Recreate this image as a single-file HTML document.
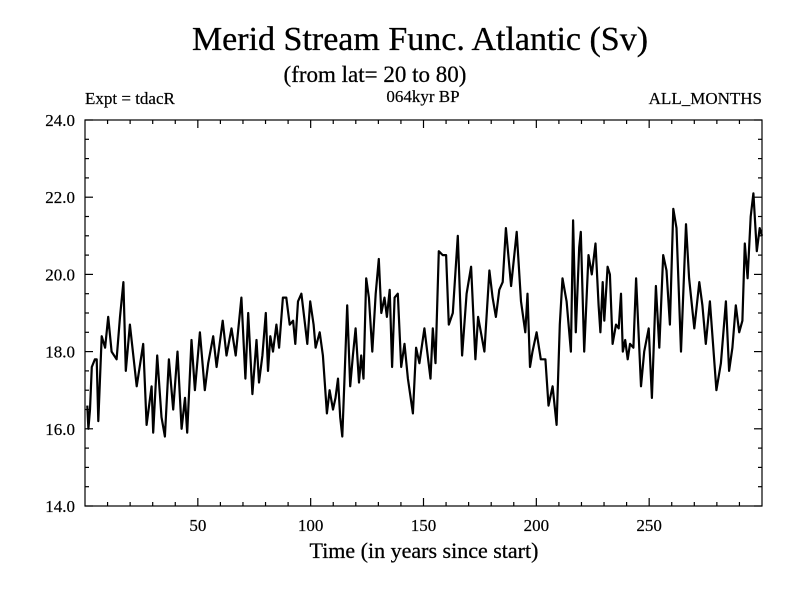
<!DOCTYPE html>
<html><head><meta charset="utf-8"><style>
body{margin:0;background:#fff}
svg text{font-family:"Liberation Serif",serif;fill:#000}
</style></head><body>
<svg id="chart" width="800" height="600" viewBox="0 0 800 600" xmlns="http://www.w3.org/2000/svg">
<rect width="800" height="600" fill="#fff"/>
<text x="420" y="50" font-size="34" text-anchor="middle" stroke="#000" stroke-width="0.3">Merid Stream Func. Atlantic (Sv)</text>
<text x="375" y="82" font-size="23" text-anchor="middle" stroke="#000" stroke-width="0.25">(from lat= 20 to 80)</text>
<text x="85" y="104" font-size="17" stroke="#000" stroke-width="0.2">Expt = tdacR</text>
<text x="423" y="102" font-size="17" text-anchor="middle" stroke="#000" stroke-width="0.2">064kyr BP</text>
<text x="762" y="104" font-size="17" text-anchor="end" stroke="#000" stroke-width="0.2">ALL_MONTHS</text>
<text x="424" y="558" font-size="22" text-anchor="middle" stroke="#000" stroke-width="0.25">Time (in years since start)</text>
<g id="axes"></g>
<path id="series" fill="none" stroke="#000" stroke-width="2.2" stroke-linejoin="round"/>
<rect x="85" y="120" width="677" height="386" fill="none" stroke="#000" stroke-width="1.2"/>
</svg>
<script>
const years=[1,1.5,2.2,3,4.4,5.2,5.9,7.4,8.9,10.3,11.8,14,15.5,17,18.1,19.9,22.9,25.8,27.3,29.5,30.2,32,33.9,35.4,37.2,39.1,41,42.8,44.3,45.3,47.2,48.7,50.9,53.1,54.6,56.8,58.3,61,62.7,64.9,66.8,69.3,71.1,72.3,74.2,76,77.1,78.6,80.1,81.1,82.1,83.3,84.8,86,87.7,89.2,90.7,92.2,93.2,94.4,95.9,97.3,98.5,99.8,101.3,102.2,104,105.4,107.2,108.4,109.9,111,112.1,113.1,114,115,116.2,117.5,118.7,119.9,121.4,122.4,123.4,124.6,125.8,127.3,128.8,130.2,131.3,132.7,133.8,135,136.1,137.2,138.6,140.1,141.6,143.1,145.3,146.7,148.2,150.4,153.1,154.1,155.3,156.8,158.5,160,161.2,163,165.2,167.1,169.1,171.1,173,174.2,177,179.2,180.6,182.1,183.6,185.1,186.5,188.8,191.3,193.2,195.1,196.1,197.2,198.3,200.1,202,204,205.4,207.2,209,210.4,211.6,213.4,215.3,216.3,217.5,219,219.7,221.2,223.1,224.6,226.2,227.6,228.4,229.4,230.1,231.6,232.6,233.8,235.3,236.5,237.5,238.3,239.4,240.5,241.5,243,244.2,246.4,247.8,249.8,251.2,253,254.5,256.2,257.7,259.2,260.7,262.1,264.1,266.3,267.7,270,272.2,273.6,275.1,276.9,278.4,279.8,281.8,284,285.4,286.9,288.4,289.9,291.3,292.4,293.6,295,296.2,297.7,299,300];
const values=[16.6,16.0,16.5,17.6,17.8,17.8,16.2,18.4,18.1,18.9,18.0,17.8,18.9,19.8,17.5,18.7,17.1,18.2,16.1,17.1,15.9,17.9,16.3,15.8,17.8,16.5,18.0,16.0,16.8,15.9,18.3,17.0,18.5,17.0,17.7,18.4,17.6,18.8,17.9,18.6,17.9,19.4,17.3,19.0,16.9,18.3,17.2,17.9,19.0,17.5,18.4,18.0,18.7,18.1,19.4,19.4,18.7,18.8,18.2,19.3,19.5,18.8,18.2,19.3,18.7,18.1,18.5,17.9,16.4,17.0,16.5,16.8,17.3,16.3,15.8,17.3,19.2,17.1,17.9,18.6,17.2,17.9,17.3,19.9,19.4,18.0,19.5,20.4,19.0,19.4,18.9,19.6,17.6,19.4,19.5,17.6,18.2,17.3,16.4,18.1,17.7,18.6,17.3,18.6,17.7,20.6,20.5,20.5,18.7,19.0,21.0,17.9,19.5,20.2,17.8,18.9,18.0,20.1,19.4,18.9,19.6,19.8,21.2,19.7,21.1,19.3,18.5,19.5,17.6,18.0,18.5,17.8,17.8,16.6,17.1,16.1,18.7,19.9,19.3,18.0,21.4,18.5,20.7,21.1,18.0,20.5,20.0,20.8,19.2,18.5,19.8,18.8,20.2,20.0,18.2,18.7,18.6,19.5,18.0,18.3,17.8,18.2,18.1,19.9,17.1,18.0,18.6,16.8,19.7,18.1,20.5,20.1,18.7,21.7,21.2,18.0,21.3,19.9,18.6,19.8,19.2,18.2,19.3,18.1,17.0,17.7,19.3,17.5,18.1,19.2,18.5,18.8,20.8,19.9,21.5,22.1,20.6,21.2,21.0];
const yTickLabels=["14.0","16.0","18.0","20.0","22.0","24.0"];
const yTickValues=[14,16,18,20,22,24];
const xTickLabels=["50","100","150","200","250"];
const xTickValues=[50,100,150,200,250];
const X0=85,X1=762,Y0=506,Y1=120;
function sx(v){return X0+(v-0)/(300-0)*(X1-X0);}
function sy(v){return Y0-(v-14)/(24-14)*(Y0-Y1);}
const NS="http://www.w3.org/2000/svg";
const ax=document.getElementById('axes');
function line(x1,y1,x2,y2,name){const l=document.createElementNS(NS,'line');l.setAttribute('x1',x1);l.setAttribute('y1',y1);l.setAttribute('x2',x2);l.setAttribute('y2',y2);l.setAttribute('stroke','#000');l.setAttribute('stroke-width','1.2');


ax.appendChild(l);}
for(let v=14;v<=24.001;v+=0.5){const y=sy(v);const major=Math.abs(v-Math.round(v/2)*2)<1e-6;const len=major?8:4;line(X0,y,X0+len,y,'y-tick');line(X1,y,X1-len,y,'y-tick-right');}
for(let v=10;v<300;v+=10){const x=sx(v);const len=(v%50===0)?8:4;line(x,Y0,x,Y0-len,'x-tick');line(x,Y1,x,Y1+len,'x-tick-top');}
yTickValues.forEach((v,i)=>{const t=document.createElementNS(NS,'text');t.setAttribute('x',75);t.setAttribute('y',sy(v)+6);t.setAttribute('font-size','17');t.setAttribute('text-anchor','end');t.setAttribute('stroke','#000');t.setAttribute('stroke-width','0.2');t.textContent=yTickLabels[i];


ax.appendChild(t);});
xTickValues.forEach((v,i)=>{const t=document.createElementNS(NS,'text');t.setAttribute('x',sx(v));t.setAttribute('y',531);t.setAttribute('font-size','17');t.setAttribute('text-anchor','middle');t.setAttribute('stroke','#000');t.setAttribute('stroke-width','0.2');t.textContent=xTickLabels[i];


ax.appendChild(t);});
let d='';years.forEach((yr,i)=>{d+=(i?'L':'M')+sx(yr).toFixed(1)+' '+sy(values[i]).toFixed(1);});
document.getElementById('series').setAttribute('d',d);
</script>
</body></html>
